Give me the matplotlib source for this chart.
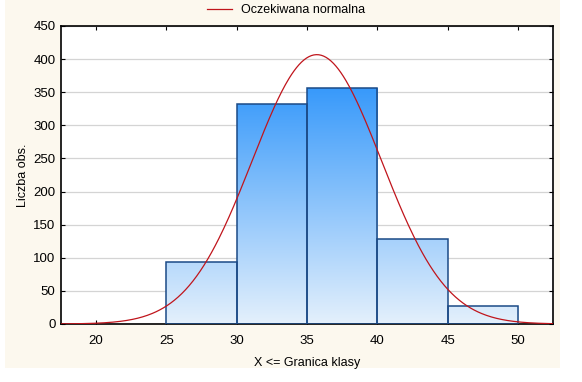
import numpy as np
import matplotlib
matplotlib.use("Agg")
import matplotlib.pyplot as plt
from matplotlib.patches import Rectangle
from matplotlib.colors import LinearSegmentedColormap

plt.rcParams['font.family'] = ['Liberation Sans', 'DejaVu Sans']

# Data
bin_edges = [20, 25, 30, 35, 40, 45, 50]
counts = [1, 93, 332, 357, 128, 27]
norm_mean = 35.7
norm_sd = 4.6
bin_width = 5
n_total = sum(counts)
x_ticks = [20, 25, 30, 35, 40, 45, 50]
y_ticks = [0, 50, 100, 150, 200, 250, 300, 350, 400, 450]
legend_label = "Oczekiwana normalna"
x_label = "X <= Granica klasy"
y_label = "Liczba obs."

W, H = 582, 382
fig = plt.figure(figsize=(W / 100, H / 100), dpi=100, facecolor="white")
fig.patches.append(Rectangle((5 / W, 1 - 368 / H), 555 / W, 368 / H,
                             transform=fig.transFigure, facecolor="#FCF8EE",
                             edgecolor="none", zorder=-10))

ax = fig.add_axes([61 / W, 1 - 324 / H, (553 - 61) / W, (324 - 26) / H])
ax.set_facecolor("white")
ax.set_xlim(17.5, 52.5)
ax.set_ylim(0, 450)

ax.set_yticks(y_ticks)
ax.yaxis.grid(True, color="#D4D4D4", linewidth=0.9)
ax.set_axisbelow(True)

# gradient bars
cmap = LinearSegmentedColormap.from_list("g", ["#E4F0FC", "#3196FA"])
grad = np.linspace(0, 1, 256).reshape(-1, 1)
for i, c in enumerate(counts):
    left = bin_edges[i]
    right = bin_edges[i + 1]
    if c < 3:
        continue
    im = ax.imshow(grad, extent=[17.5, 52.5, 0, 370], origin="lower",
                   cmap=cmap, aspect="auto", zorder=2)
    rect = Rectangle((left, 0), right - left, c, facecolor="none",
                     edgecolor="#1B4A86", linewidth=1.1, zorder=3)
    ax.add_patch(rect)
    im.set_clip_path(rect)
ax.set_xlim(17.5, 52.5)
ax.set_ylim(0, 450)

# expected normal curve
xs = np.linspace(17.5, 52.5, 400)
ys = n_total * bin_width / (norm_sd * np.sqrt(2 * np.pi)) * np.exp(-0.5 * ((xs - norm_mean) / norm_sd) ** 2)
line, = ax.plot(xs, ys, color="#C0151C", linewidth=0.9, zorder=4, label=legend_label)

ax.set_xticks(x_ticks)
for s in ax.spines.values():
    s.set_linewidth(1.2)
    s.set_color("black")
ax.tick_params(axis="both", direction="in", length=3, width=0.8, labelsize=9.5,
               top=True, right=True, colors="black")
ax.tick_params(axis="y", pad=4)
ax.tick_params(axis="x", pad=8)
ax.set_xlabel(x_label, fontsize=9, labelpad=7)
ax.set_ylabel(y_label, fontsize=9, labelpad=3)

fig.legend(handles=[line], labels=[legend_label], loc="center",
           bbox_to_anchor=(286 / W, 1 - 10 / H), frameon=False, fontsize=9,
           handlelength=2.0, handletextpad=0.7)

fig.savefig("out.png", dpi=100, facecolor=fig.get_facecolor())
